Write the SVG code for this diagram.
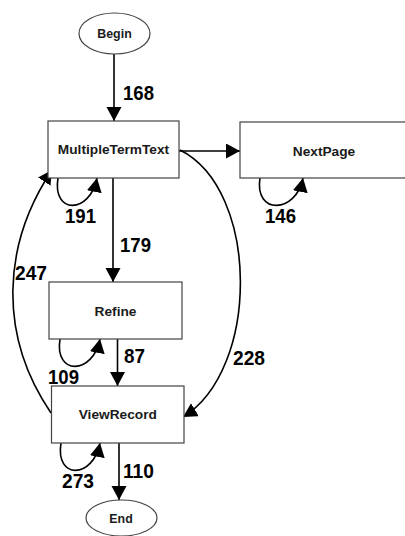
<svg xmlns="http://www.w3.org/2000/svg" width="405" height="536" viewBox="0 0 405 536">
<style>
.node rect,.node ellipse{fill:#fff;stroke:#444;stroke-width:1.2}
.node text{font-family:"Liberation Sans",Arial,sans-serif;font-weight:bold;font-size:13.7px;fill:#1a1a1a;text-anchor:middle}
.node.term text{font-size:12.4px}
.edge{fill:none;stroke:#000;stroke-width:1.6;marker-end:url(#ah)}
.lbl{font-family:"Liberation Sans",Arial,sans-serif;font-weight:bold;font-size:19.5px;fill:#000}
</style>
<defs>
<marker id="ah" markerUnits="userSpaceOnUse" markerWidth="16" markerHeight="16" refX="14" refY="7.5" orient="auto">
<path d="M0,0 L14,7.5 L0,15 Z" fill="#000"/>
</marker>
</defs>
<g id="connectors">
<path class="edge" d="M114,54 L114,121"/>
<path class="edge" d="M179,151 L240,151"/>
<path class="edge" d="M113,178 L113,282"/>
<path class="edge" d="M117.5,339 L117.5,386"/>
<path class="edge" d="M119,443 L119,500"/>
<path class="edge" d="M58,178 C52,215 90,214 97,178"/>
<path class="edge" d="M260,178 C254,215 296,214 303,178"/>
<path class="edge" d="M60,339 C54,376 93,375 100,339"/>
<path class="edge" d="M61,443 C55,480 93,479 100,443"/>
<path class="edge" d="M51,413 C-2,335 2,245 52,170"/>
<path class="edge" d="M180,150 C260,190 260,370 183,417"/>
<text class="lbl" x="123" y="100" textLength="31" lengthAdjust="spacingAndGlyphs">168</text>
<text class="lbl" x="65" y="223" textLength="31" lengthAdjust="spacingAndGlyphs">191</text>
<text class="lbl" x="120" y="252" textLength="31" lengthAdjust="spacingAndGlyphs">179</text>
<text class="lbl" x="265" y="223" textLength="31" lengthAdjust="spacingAndGlyphs">146</text>
<text class="lbl" x="15" y="280" textLength="32" lengthAdjust="spacingAndGlyphs">247</text>
<text class="lbl" x="124" y="363" textLength="21" lengthAdjust="spacingAndGlyphs">87</text>
<text class="lbl" x="48" y="384" textLength="31" lengthAdjust="spacingAndGlyphs">109</text>
<text class="lbl" x="233" y="365" textLength="32" lengthAdjust="spacingAndGlyphs">228</text>
<text class="lbl" x="62" y="488" textLength="32" lengthAdjust="spacingAndGlyphs">273</text>
<text class="lbl" x="123" y="478" textLength="31" lengthAdjust="spacingAndGlyphs">110</text>
</g>
<g id="Begin" class="node term">
<ellipse cx="114.5" cy="33.5" rx="35.5" ry="20.5"/>
<text x="114.5" y="37.7">Begin</text>
</g>
<g id="MultipleTermText" class="node">
<rect x="48" y="121" width="131" height="57"/>
<text x="113.5" y="154">MultipleTermText</text>
</g>
<g id="NextPage" class="node">
<rect x="240" y="122" width="170" height="56"/>
<text x="324" y="155.5">NextPage</text>
</g>
<g id="Refine" class="node">
<rect x="49" y="282" width="133" height="57"/>
<text x="115.5" y="315.7">Refine</text>
</g>
<g id="ViewRecord" class="node">
<rect x="51.5" y="386" width="132.5" height="57"/>
<text x="117.8" y="419.3">ViewRecord</text>
</g>
<g id="End" class="node term">
<ellipse cx="121.5" cy="518" rx="35.5" ry="18"/>
<text x="121" y="522.5">End</text>
</g>
</svg>
